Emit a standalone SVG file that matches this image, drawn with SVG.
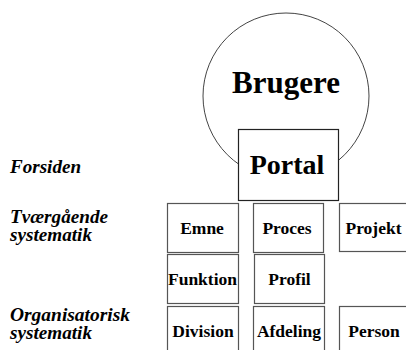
<svg xmlns="http://www.w3.org/2000/svg" width="406" height="350" viewBox="0 0 406 350">
<style>
text{font-family:"Liberation Serif","Times New Roman",serif;font-weight:bold;fill:#000}
.lbl{font-style:italic;font-size:18px}
.box{fill:#fff;stroke:#555;stroke-width:1.2}
.bt{font-size:17.5px;text-anchor:middle}
</style>
<rect width="406" height="350" fill="#fff"/>
<g id="labels">
<text class="lbl" x="10" y="173" textLength="71" lengthAdjust="spacingAndGlyphs">Forsiden</text>
<text class="lbl" x="10" y="223" textLength="98" lengthAdjust="spacingAndGlyphs">Tværgående</text>
<text class="lbl" x="10" y="241" textLength="82" lengthAdjust="spacingAndGlyphs">systematik</text>
<text class="lbl" x="10" y="321" textLength="120" lengthAdjust="spacingAndGlyphs">Organisatorisk</text>
<text class="lbl" x="10" y="339" textLength="82" lengthAdjust="spacingAndGlyphs">systematik</text>
</g>
<g id="connectors"></g>
<g id="brugere">
<circle cx="286" cy="96" r="83" fill="#fff" stroke="#444" stroke-width="1"/>
<text x="286" y="93" font-size="31" text-anchor="middle">Brugere</text>
</g>
<g id="portal">
<rect x="238.5" y="129.5" width="100" height="71" fill="#fff" stroke="#222" stroke-width="1.2"/>
<text x="287" y="174" font-size="28" text-anchor="middle">Portal</text>
</g>
<g id="emne"><rect class="box" x="167.5" y="203.5" width="71" height="49"/><text class="bt" x="202" y="234">Emne</text></g>
<g id="proces"><rect class="box" x="253.5" y="203.5" width="70" height="49"/><text class="bt" x="287" y="234">Proces</text></g>
<g id="projekt"><rect class="box" x="339.5" y="203.5" width="70" height="48"/><text class="bt" x="373.5" y="234">Projekt</text></g>
<g id="funktion"><rect class="box" x="167.5" y="254.5" width="71" height="49"/><text class="bt" x="202.5" y="285">Funktion</text></g>
<g id="profil"><rect class="box" x="254.5" y="254.5" width="70" height="49"/><text class="bt" x="289.5" y="285">Profil</text></g>
<g id="division"><rect class="box" x="167.5" y="306.5" width="71" height="50"/><text class="bt" x="203" y="337">Division</text></g>
<g id="afdeling"><rect class="box" x="253.5" y="306.5" width="71" height="50"/><text class="bt" x="289" y="337">Afdeling</text></g>
<g id="person"><rect class="box" x="339.5" y="306.5" width="70" height="50"/><text class="bt" x="374" y="337">Person</text></g>
</svg>
